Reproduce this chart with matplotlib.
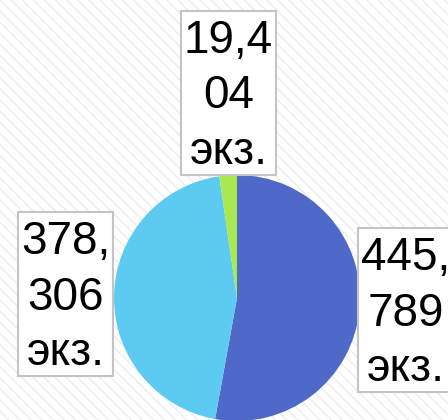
import matplotlib
matplotlib.use("Agg")
import matplotlib.pyplot as plt
from matplotlib.patches import Rectangle

values = [445.789, 378.306, 19.404]
labels = ["445,\n789\nэкз.", "378,\n306\nэкз.", "19,4\n04\nэкз."]
colors = ["#4F69C9", "#5DCBF1", "#A9E84E"]

plt.rcParams['font.family'] = ['Liberation Sans', 'DejaVu Sans']
plt.rcParams['hatch.linewidth'] = 1.0

fig = plt.figure(figsize=(4.48, 4.2), dpi=100)
fig.patch.set_facecolor('white')
ax = fig.add_axes([0, 0, 1, 1])

bg = Rectangle((0, 0), 448, 420, facecolor='white', edgecolor='#ededed',
               hatch='\\\\\\', linewidth=0, transform=ax.transData, zorder=0)
ax.add_patch(bg)

cx, cy, r = 237, 122, 123
ax.pie(values, colors=colors, startangle=90, counterclock=False,
       center=(cx, cy), radius=r, frame=True,
       wedgeprops=dict(linewidth=0))
ax.set_xlim(0, 448)
ax.set_ylim(0, 420)
ax.axis('off')

label_pos = [(406, 106.5), (65.5, 122.5), (228.5, 323.5)]
texts = []
for (x, y), t in zip(label_pos, labels):
    texts.append(ax.text(x, y, t, ha='center', va='center', fontsize=33,
                         multialignment='center', linespacing=1.33, zorder=5))

fig.canvas.draw()
renderer = fig.canvas.get_renderer()
inv = ax.transData.inverted()
for t in texts:
    bb = t.get_window_extent(renderer)
    (x0, y0), (x1, y1) = inv.transform([(bb.x0, bb.y0), (bb.x1, bb.y1)])
    rect = Rectangle((x0 - 3, y0 - 1), (x1 - x0) + 6, (y1 - y0) + 9,
                     facecolor='white', edgecolor='#c4c4c4', linewidth=1.5,
                     zorder=4)
    ax.add_patch(rect)

fig.savefig('out.png', dpi=100)
